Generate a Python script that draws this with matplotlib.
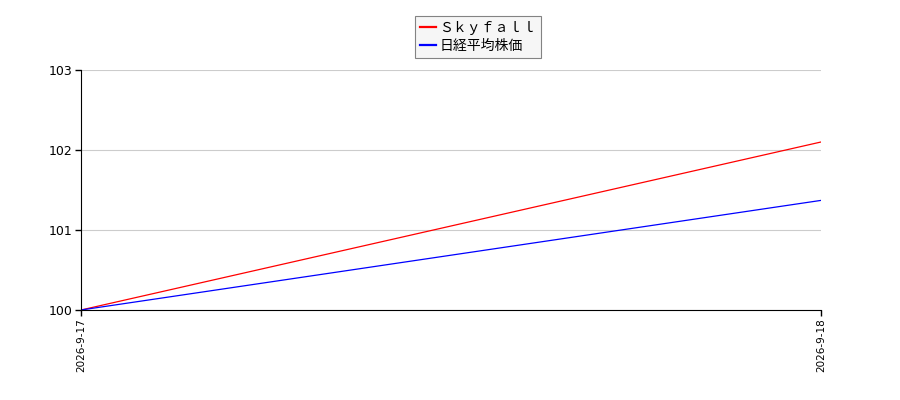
import matplotlib
matplotlib.use("Agg")
import matplotlib.pyplot as plt

plt.rcParams["font.family"] = ["Noto Sans CJK JP", "DejaVu Sans"]

dates = ["2026-9-17", "2026-9-18"]
skyfall = [100.0, 102.1]
nikkei = [100.0, 101.37]
yticks = [100, 101, 102, 103]

fig = plt.figure(figsize=(9, 4), dpi=100)
ax = fig.add_axes([0.09, 0.225, 0.8222, 0.6])

x = list(range(len(dates)))
ax.plot(x, skyfall, color="red", lw=0.9, label="Ｓｋｙｆａｌｌ")
ax.plot(x, nikkei, color="blue", lw=0.9, label="日経平均株価")

ax.set_xlim(0, len(dates) - 1)
ax.set_ylim(100, 103)
ax.set_yticks(yticks)
ax.set_yticklabels([str(v) for v in yticks], fontsize=9, family="DejaVu Sans")
ax.set_xticks(x)
ax.set_xticklabels(dates, rotation=90, fontsize=7.5, family="DejaVu Sans")
ax.grid(axis="y", color="#cccccc", lw=0.8)
ax.set_axisbelow(True)
for s in ["top", "right"]:
    ax.spines[s].set_visible(False)
ax.tick_params(length=4, width=1, direction="out", pad=2)

leg = fig.legend(loc="upper center", bbox_to_anchor=(478 / 900, 1 - 16 / 400),
                 fontsize=10, frameon=True, fancybox=False, edgecolor="#666666",
                 handlelength=1.15, handletextpad=0.25, borderpad=0.35,
                 labelspacing=0.3, borderaxespad=0)
leg.get_frame().set_facecolor("#f4f4f4")
leg.get_frame().set_linewidth(0.8)
for line in leg.get_lines():
    line.set_linewidth(1.6)

fig.savefig("out.png", dpi=100)
